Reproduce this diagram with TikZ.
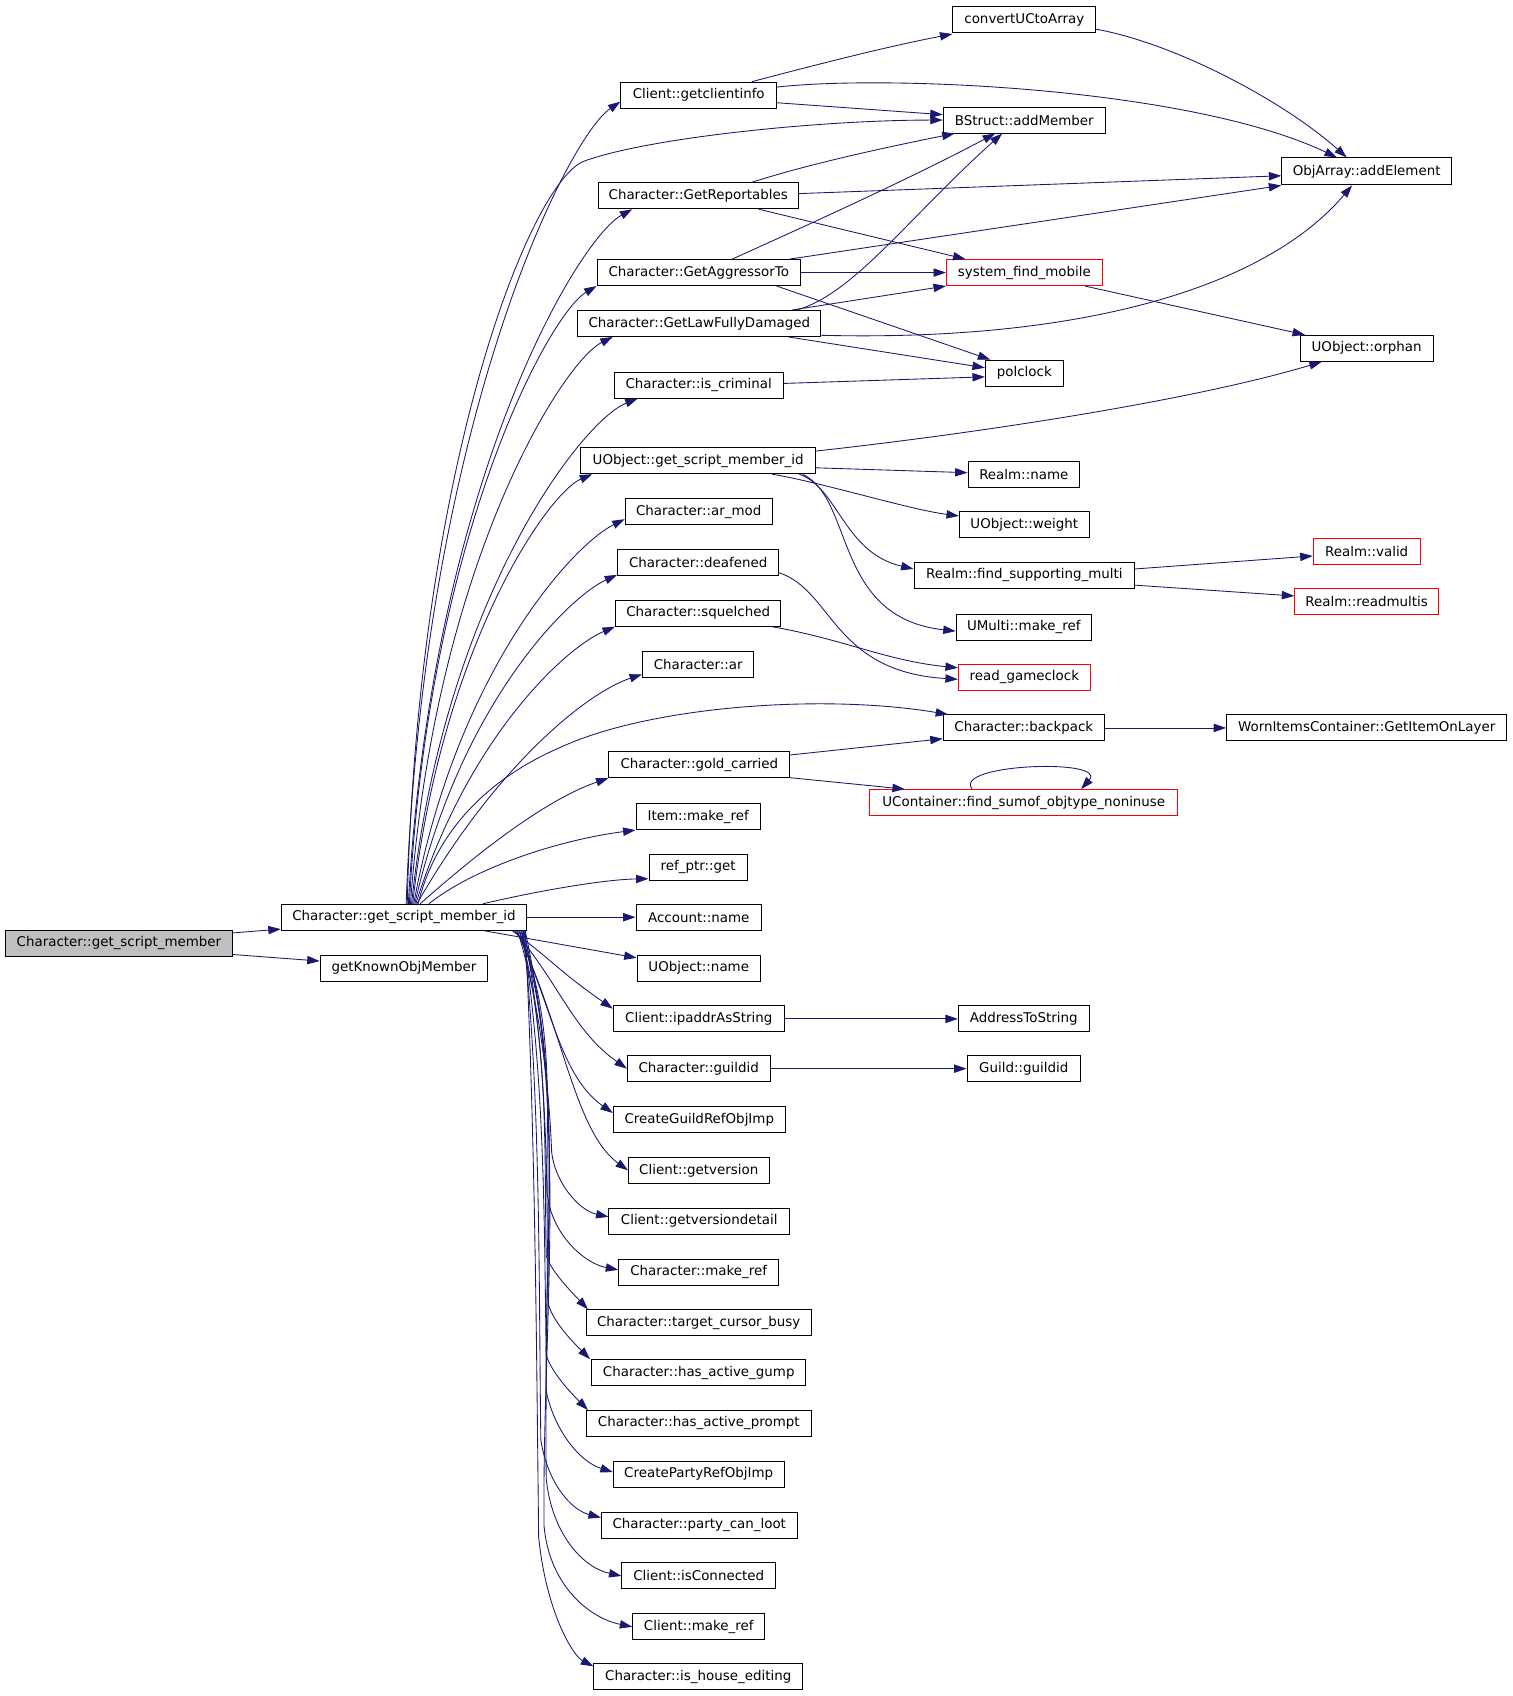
\documentclass[tikz,border=0pt]{standalone}
\usepackage{fontspec}
\setmainfont{DejaVu Sans}
\usetikzlibrary{arrows.meta}
\definecolor{navy}{HTML}{191970}
\definecolor{rootgray}{HTML}{BFBFBF}
\begin{document}
\begin{tikzpicture}[x=1pt,y=-1pt,
  box/.style={draw=black, fill=white, line width=0.9pt, minimum height=24pt, inner sep=0pt, font=\fontsize{12.4}{14}\selectfont},
  redbox/.style={box, draw=red},
  edge/.style={draw=navy, line width=0.8pt, -{Triangle[length=11.5pt,width=7.7pt]}}]
\useasboundingbox (0,-1) rectangle (1398,1567);
% column 0/1
\node[box,minimum width=210pt,fill=rootgray] (gsm) at (110,871) {Character::get\_script\_member};
\node[box,minimum width=227pt] (gsmid) at (373.5,847) {Character::get\_script\_member\_id};
\node[box,minimum width=155pt] (gkom) at (373.5,894) {getKnownObjMember};
% column 2
\node[box,minimum width=144pt] (gci) at (646,87) {Client::getclientinfo};
\node[box,minimum width=185pt] (grep) at (645.5,180) {Character::GetReportables};
\node[box,minimum width=188pt] (gagg) at (646,251) {Character::GetAggressorTo};
\node[box,minimum width=225pt] (glfd) at (646.5,298) {Character::GetLawFullyDamaged};
\node[box,minimum width=156pt] (iscrim) at (646,355) {Character::is\_criminal};
\node[box,minimum width=217pt] (uogsmid) at (645.5,425) {UObject::get\_script\_member\_id};
\node[box,minimum width=136pt] (armod) at (646,472) {Character::ar\_mod};
\node[box,minimum width=149pt] (deaf) at (645.5,519) {Character::deafened};
\node[box,minimum width=153pt] (squel) at (645.5,566) {Character::squelched};
\node[box,minimum width=103pt] (ar) at (645.5,613) {Character::ar};
\node[box,minimum width=167pt] (gold) at (646.5,706) {Character::gold\_carried};
\node[box,minimum width=115pt] (itemref) at (645.5,754) {Item::make\_ref};
\node[box,minimum width=91pt] (refptr) at (645.5,801) {ref\_ptr::get};
\node[box,minimum width=116pt] (accname) at (646,847) {Account::name};
\node[box,minimum width=114pt] (uname) at (646,894) {UObject::name};
\node[box,minimum width=158pt] (ipaddr) at (646,941) {Client::ipaddrAsString};
\node[box,minimum width=132pt] (guildid) at (646,987) {Character::guildid};
\node[box,minimum width=159pt] (cguild) at (646.5,1034) {CreateGuildRefObjImp};
\node[box,minimum width=130pt] (getver) at (646,1081) {Client::getversion};
\node[box,minimum width=167pt] (getverd) at (646.5,1128) {Client::getversiondetail};
\node[box,minimum width=148pt] (chref) at (646,1175) {Character::make\_ref};
\node[box,minimum width=208pt] (tcb) at (646,1222) {Character::target\_cursor\_busy};
\node[box,minimum width=198pt] (hag) at (646,1268) {Character::has\_active\_gump};
\node[box,minimum width=208pt] (hap) at (646,1315) {Character::has\_active\_prompt};
\node[box,minimum width=158pt] (cparty) at (646,1362) {CreatePartyRefObjImp};
\node[box,minimum width=181pt] (pcl) at (646.5,1409) {Character::party\_can\_loot};
\node[box,minimum width=142pt] (iscon) at (646,1456) {Client::isConnected};
\node[box,minimum width=122pt] (cliref) at (646,1503) {Client::make\_ref};
\node[box,minimum width=193pt] (ihe) at (645.5,1549) {Character::is\_house\_editing};
% column 3
\node[box,minimum width=132pt] (conv) at (947,17) {convertUCtoArray};
\node[box,minimum width=150pt] (bstruct) at (947,110) {BStruct::addMember};
\node[redbox,minimum width=144pt] (sfm) at (947,251) {system\_find\_mobile};
\node[box,minimum width=72pt] (polclock) at (947,344) {polclock};
\node[box,minimum width=103pt] (realmname) at (946.5,438) {Realm::name};
\node[box,minimum width=120pt] (weight) at (947,484) {UObject::weight};
\node[box,minimum width=204pt] (fsm) at (947,531) {Realm::find\_supporting\_multi};
\node[box,minimum width=125pt] (umulti) at (946.5,579) {UMulti::make\_ref};
\node[redbox,minimum width=122pt] (rgc) at (947,625) {read\_gameclock};
\node[box,minimum width=149pt] (backpack) at (946.5,672) {Character::backpack};
\node[redbox,minimum width=285pt] (ucont) at (946.5,741) {UContainer::find\_sumof\_objtype\_noninuse};
\node[box,minimum width=121pt] (addr) at (946.5,941) {AddressToString};
\node[box,minimum width=105pt] (gguild) at (946.5,987) {Guild::guildid};
% column 4
\node[box,minimum width=157pt,minimum height=25pt] (objarr) at (1263.5,157.5) {ObjArray::addElement};
\node[box,minimum width=123pt] (orphan) at (1263.5,321) {UObject::orphan};
\node[redbox,minimum width=99pt] (valid) at (1263.5,509) {Realm::valid};
\node[redbox,minimum width=133pt] (readm) at (1263.5,555) {Realm::readmultis};
\node[box,minimum width=259pt] (worn) at (1263.5,672) {WornItemsContainer::GetItemOnLayer};

% root edges
\draw[edge] ([yshift=9.5pt]gsm.east) -- ([yshift=-11pt]gsmid.west);
\draw[edge] ([yshift=-10.5pt]gsm.east) -- ([yshift=6.5pt]gkom.west);

% upper fan
\draw[edge] ([xshift=2pt]gsmid.north) .. controls (391.4,389.8) and (524.4,126.4) .. ([yshift=-6pt]gci.west);
\draw[edge] ([xshift=3pt]gsmid.north) .. controls (386,430) and (490,167) .. (540,148) .. controls (600,126) and (760,110) .. (bstruct.west);
\draw[edge] ([xshift=4pt]gsmid.north) .. controls (398.3,449.2) and (533.1,220.9) .. ([xshift=32pt]grep.south west);
\draw[edge] ([xshift=5pt]gsmid.north) .. controls (395.9,491.8) and (508.6,288.7) .. (gagg.south west);
\draw[edge] ([xshift=6pt]gsmid.north) .. controls (402,520) and (520.1,333.6) .. ([xshift=33pt]glfd.south west);
\draw[edge] ([xshift=7pt]gsmid.north) .. controls (409.8,554.2) and (537.6,388.1) .. ([xshift=22pt]iscrim.south west);
\draw[edge] ([xshift=8pt]gsmid.north) .. controls (408.1,596.2) and (506.4,454.9) .. ([xshift=11pt]uogsmid.south west);
\draw[edge] ([xshift=9pt]gsmid.north) .. controls (421.6,621.4) and (529.1,503) .. ([yshift=-7pt]armod.west);
\draw[edge] ([xshift=10pt]gsmid.north) .. controls (424.8,652) and (524.1,551.7) .. ([yshift=1pt]deaf.south west);
\draw[edge] ([xshift=11pt]gsmid.north) .. controls (432.5,680.8) and (522.9,597.6) .. (squel.south west);
\draw[edge] ([xshift=12pt]gsmid.north) .. controls (458.5,707.2) and (541.9,639.6) .. ([yshift=3pt]ar.south west);
\draw[edge] ([xshift=13pt]gsmid.north) .. controls (405,760) and (460,715) .. (518,690) .. controls (600,652) and (760,640) .. ([xshift=5pt]backpack.north west);
\draw[edge] ([xshift=15pt]gsmid.north) .. controls (467,764.8) and (519.4,733) .. (gold.south west);
\draw[edge] ([xshift=23pt]gsmid.north) .. controls (440,800) and (520,775) .. (itemref.south west);
\draw[edge] ([xshift=73pt]gsmid.north) .. controls (500,822) and (560,812) .. ([yshift=2pt]refptr.south west);
\draw[edge] (gsmid.east) -- (accname.west);
\draw[edge] ([xshift=74pt]gsmid.south) -- ([yshift=-3pt]uname.north west);

% lower fan
\draw[edge] ([xshift=100pt]gsmid.south) .. controls (512,888) and (517,897) .. ([yshift=-3pt]ipaddr.north west);
\draw[edge] ([xshift=102pt]gsmid.south) .. controls (518,910) and (530,952) .. (guildid.west);
\draw[edge] ([xshift=104pt]gsmid.south) .. controls (510,927) and (517,993) .. ([yshift=6pt]cguild.west);
\draw[edge] ([xshift=104pt]gsmid.south) .. controls (520,947) and (531,1045) .. (getver.west);
\draw[edge] ([xshift=105pt]gsmid.south) .. controls (500,930) and (508,1010) .. (510,1064) .. controls (513,1092) and (535,1118) .. ([yshift=4pt]getverd.west);
\draw[edge] ([xshift=106pt]gsmid.south) .. controls (515,945) and (504,1030) .. (506,1103) .. controls (510,1140) and (540,1167) .. ([yshift=2pt]chref.west);
\draw[edge] ([xshift=107pt]gsmid.south) .. controls (508,960) and (503,1070) .. (505,1160) .. controls (510,1175) and (528,1193) .. ([xshift=2pt]tcb.north west);
\draw[edge] ([xshift=108pt]gsmid.south) .. controls (518,980) and (505,1100) .. (507,1205) .. controls (512,1222) and (530,1240) .. ([xshift=-1pt]hag.north west);
\draw[edge] ([xshift=109pt]gsmid.south) .. controls (504,990) and (503,1130) .. (505,1252) .. controls (510,1268) and (528,1287) .. ([xshift=2pt]hap.north west);
\draw[edge] ([xshift=110pt]gsmid.south) .. controls (522,1000) and (503,1150) .. (505,1285) .. controls (512,1320) and (535,1350) .. ([yshift=2pt]cparty.west);
\draw[edge] ([xshift=110pt]gsmid.south) .. controls (500,1010) and (498,1180) .. (500,1330) .. controls (506,1370) and (528,1395) .. ([yshift=7pt]pcl.west);
\draw[edge] ([xshift=111pt]gsmid.south) .. controls (516,1030) and (503,1200) .. (505,1366) .. controls (510,1416) and (538,1448) .. (iscon.west);
\draw[edge] ([xshift=112pt]gsmid.south) .. controls (525,1040) and (501,1230) .. (503,1410) .. controls (508,1465) and (545,1495) .. (cliref.west);
\draw[edge] ([xshift=112pt]gsmid.south) .. controls (495,1050) and (496,1250) .. (498,1420) .. controls (505,1490) and (530,1530) .. ([yshift=-3pt]ihe.north west);

% column 2 -> 3/4
\draw[edge] ([xshift=49pt]gci.north) .. controls (750,60) and (820,42) .. ([yshift=-1pt]conv.south west);
\draw[edge] ([yshift=7.5pt]gci.east) .. controls (820,68) and (1100,80) .. ([xshift=-27.5pt]objarr.north);
\draw[edge] ([yshift=-7pt]gci.east) -- ([yshift=5pt]bstruct.west);
\draw[edge] ([yshift=-9pt]conv.east) .. controls (1090,40) and (1190,95) .. ([xshift=-18.5pt]objarr.north);

\draw[edge] ([xshift=49.5pt]grep.north) .. controls (750,150) and (820,135) .. ([xshift=11pt]bstruct.south west);
\draw[edge] ([yshift=2pt]grep.east) -- ([yshift=-4pt]objarr.west);
\draw[edge] ([xshift=56pt]grep.south) -- ([xshift=18pt]sfm.north west);

\draw[edge] ([xshift=31pt]gagg.north) .. controls (740,210) and (840,165) .. ([xshift=-27pt]bstruct.south);
\draw[edge] ([xshift=84pt]gagg.north) -- (objarr.south west);
\draw[edge] (gagg.east) -- (sfm.west);
\draw[edge] ([xshift=72pt]gagg.south) -- ([xshift=5pt]polclock.north west);

\draw[edge] ([xshift=90.5pt]glfd.north) .. controls (790,270) and (840,200) .. ([xshift=-20.5pt]bstruct.south);
\draw[edge] ([xshift=86pt]glfd.north) -- (sfm.south west);
\draw[edge] ([yshift=-11pt]glfd.east) .. controls (1000,315) and (1170,265) .. ([xshift=-13.5pt]objarr.south);
\draw[edge] ([xshift=82pt]glfd.south) -- ([yshift=5pt]polclock.west);
\draw[edge] ([yshift=1.5pt]iscrim.east) -- ([yshift=-3.4pt]polclock.west);

\draw[edge] ([xshift=56pt]sfm.south) -- ([xshift=-57pt]orphan.north);

\draw[edge] ([yshift=9pt]uogsmid.east) .. controls (900,400) and (1100,370) .. ([xshift=-41.5pt]orphan.south);
\draw[edge] ([yshift=-6.5pt]uogsmid.east) -- ([yshift=2pt]realmname.west);
\draw[edge] ([xshift=68.5pt]uogsmid.south) .. controls (760,445) and (840,470) .. ([yshift=8pt]weight.west);
\draw[edge] ([xshift=93.5pt]uogsmid.south) .. controls (775,450) and (780,510) .. ([yshift=6pt]fsm.west);
\draw[edge] ([xshift=96.5pt]uogsmid.south) .. controls (790,460) and (770,570) .. ([yshift=-3.5pt]umulti.west);

\draw[edge] ([yshift=6pt]fsm.east) -- ([yshift=-4pt]valid.west);
\draw[edge] ([yshift=-9pt]fsm.east) -- ([yshift=5pt]readm.west);

\draw[edge] ([yshift=-9.6pt]deaf.east) .. controls (770,545) and (770,620) .. ([yshift=-2pt]rgc.west);
\draw[edge] ([xshift=68.5pt]squel.south) .. controls (780,590) and (820,610) .. ([yshift=8.6pt]rgc.west);

\draw[edge] ([yshift=9pt]gold.east) -- ([yshift=-10pt]backpack.west);
\draw[edge] ([yshift=-12pt]gold.east) -- ([xshift=33pt]ucont.north west);
\draw[edge] ([xshift=-47.7pt]ucont.north) .. controls (880,705) and (1025,700) .. ([xshift=53pt]ucont.north);

\draw[edge] (backpack.east) -- (worn.west);
\draw[edge] (ipaddr.east) -- (addr.west);
\draw[edge] (guildid.east) -- (gguild.west);
\end{tikzpicture}
\end{document}
